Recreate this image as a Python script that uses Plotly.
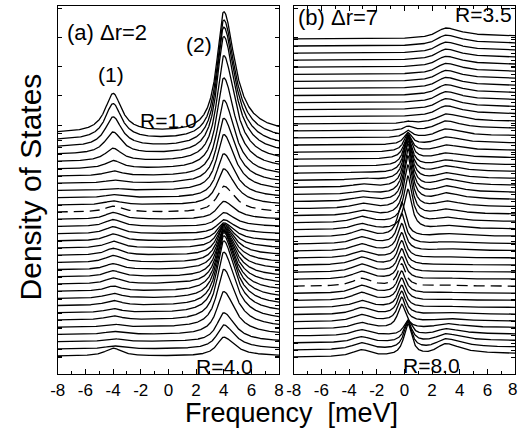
import numpy as np
import plotly.graph_objects as go

# ---------------- data ----------------
# Panel (a): Delta r = 2, curves from R=1.0 (top) to R=4.0 (bottom)
a_peak1_pos = -4.0          # peak (1) position [meV]
a_peak2_pos = 4.0           # peak (2) position [meV]
a_peak1_height = [39, 36, 30, 22, 13, 8, 5, 3, 2, 3, 4, 6, 7, 7, 7, 7,
                  7, 7, 7, 6, 6, 6, 5, 5, 5, 4, 4, 3, 3, 3, 3, 8]
a_peak2_height = [121, 120, 120, 118, 106, 91, 76, 65, 56, 44, 36, 26, 18, 14, 14, 18,
                  24, 30, 36, 42, 48, 54, 60, 66, 70, 72, 68, 58, 43, 29, 24, 19]
a_dashed_index = 11

# Panel (b): Delta r = 7, curves from R=3.5 (top) to R=8.0 (bottom)
b_left_pos = -3.1
b_right_pos = 3.0
b_left_height = [0] * 19 + [1, 2, 3, 3, 4, 5, 5, 6, 6, 7, 7, 7, 7, 8, 8, 8,
                            8, 8, 8, 7, 7, 7, 6, 6, 6, 7, 7]
b_center_height = [0] * 12 + [2, 4, 7, 12, 18, 24, 30, 36, 42, 46, 50, 52, 52, 50, 46, 40,
                              34, 30, 27, 25, 24, 23, 22, 22, 22, 22, 22, 23, 24, 24,
                              15, 21, 27, 32]
b_center_pos = [0.25] * 28 + [-0.2] * 14 + [0.25] * 4
b_right_height = [11] * 12 + [10, 10, 9, 8, 7, 6, 6, 7, 7, 8, 8, 8, 7, 6, 5,
                              4, 3, 2, 2, 1, 1, 1, 1, 1, 1, 1, 1, 2, 3, 5, 7, 9, 11, 13]
b_dashed_index = 35

x_ticks = [-8, -6, -4, -2, 0, 2, 4, 6, 8]

# ---------------- layout constants (pixels) ----------------
W, H = 524, 432
AX_L, AX_R = 51, 278
BX_L, BX_R = 293, 520
Y_TOP, Y_BOT = 6, 374
YR = Y_BOT - Y_TOP
A_FIRST, A_STEP = 133, 7.2      # baseline of first curve, spacing
B_FIRST, B_STEP = 39, 7.07

x = np.linspace(-8, 8, 1201)


def peak(xv, c, h, wl, wr, plateau=0.0):
    w = np.where(xv < c, wl, wr)
    L = 1.0 / (1.0 + ((xv - c) / w) ** 2)
    if plateau:
        L = np.where(xv > c, plateau + (1 - plateau) * L, L)
    return h * L


fig = go.Figure()
line_w = 1.3

a_bases = []
for i in range(len(a_peak2_height)):
    base = Y_BOT - (A_FIRST + A_STEP * i)
    a_bases.append(base)
    y = (base + peak(x, a_peak1_pos, a_peak1_height[i], 0.7, 0.75)
         + peak(x, a_peak2_pos, a_peak2_height[i], 0.6, 0.95))
    fig.add_trace(go.Scatter(
        x=x, y=y, mode="lines", xaxis="x", yaxis="y", hoverinfo="skip",
        showlegend=False,
        line=dict(color="black", width=line_w,
                  dash="10px,6px" if i == a_dashed_index else "solid")))

b_bases = []
for i in range(len(b_right_height)):
    base = Y_BOT - (B_FIRST + B_STEP * i)
    b_bases.append(base)
    y = (base + peak(x, b_left_pos, b_left_height[i], 0.8, 0.8)
         + peak(x, b_center_pos[i], b_center_height[i], 0.35, 0.35)
         + peak(x, b_right_pos, b_right_height[i], 0.85, 1.3, plateau=0.25))
    fig.add_trace(go.Scatter(
        x=x, y=y, mode="lines", xaxis="x2", yaxis="y2", hoverinfo="skip",
        showlegend=False,
        line=dict(color="black", width=line_w,
                  dash="11px,6px" if i == b_dashed_index else "solid")))

major_y = [Y_BOT - (8.6 + 29.1 * k) for k in range(13) if 8.6 + 29.1 * k < Y_BOT]
a_yticks = sorted(set([round(v, 2) for v in major_y + a_bases]))
b_yticks = sorted(set([round(v, 2) for v in major_y + b_bases]))

font = "Liberation Sans, Arial, Helvetica, sans-serif"
ydom = [(H - Y_BOT) / H, (H - Y_TOP) / H]

xcommon = dict(range=[-8, 8], tickvals=x_ticks,
               ticks="inside", ticklen=5, tickwidth=1, tickcolor="black",
               minor=dict(dtick=1, ticks="inside", ticklen=3, tickcolor="black"),
               showline=True, linecolor="black", linewidth=1.2,
               showgrid=False, zeroline=False,
               tickfont=dict(family=font, size=17, color="black"))
ycommon = dict(range=[0, YR], showticklabels=False, ticks="inside", ticklen=4,
               tickwidth=1, tickcolor="black", showline=True, linecolor="black",
               linewidth=1.2, mirror="ticks", showgrid=False, zeroline=False,
               domain=ydom)

a_ticktext = [str(v) for v in x_ticks]
b_ticktext = [str(v) for v in x_ticks[:-1]] + [""]   # last label drawn as annotation

fig.update_layout(
    width=W, height=H, margin=dict(l=0, r=0, t=0, b=0),
    paper_bgcolor="white", plot_bgcolor="white",
    xaxis=dict(domain=[AX_L / W, AX_R / W], anchor="y", mirror=True,
               ticktext=a_ticktext, **xcommon),
    xaxis2=dict(domain=[BX_L / W, BX_R / W], anchor="y2", mirror="ticks",
                ticktext=b_ticktext, **xcommon),
    yaxis=dict(anchor="x", tickvals=a_yticks, **ycommon),
    yaxis2=dict(anchor="x2", tickvals=b_yticks, **ycommon),
)


def ann(text, px, py, size, xanchor="left", angle=0):
    fig.add_annotation(text=text, x=px / W, y=1 - py / H, xref="paper", yref="paper",
                       xanchor=xanchor, yanchor="middle", showarrow=False,
                       textangle=angle, borderpad=0,
                       font=dict(family=font, size=size, color="black"))


ann("(a) Δr=2", 59, 32, 22)
ann("(2)", 182, 44, 21)
ann("(1)", 91, 74, 21)
ann("R=1.0", 134, 121, 21)
ann("R=4.0", 192, 366, 21)
ann("(b) Δr=7", 296, 18, 22)
ann("R=3.5", 457, 15, 21)
ann("R=8.0", 404, 365, 21)
ann(str(x_ticks[-1]), 523, 389, 17, xanchor="right")
ann("Frequency\u00a0 [meV]", 291, 413, 27, xanchor="center")
ann("Density of States", 23, 187, 30, xanchor="center", angle=-90)

fig.write_html("out.html",
               config={"displayModeBar": False, "staticPlot": True},
               post_script="document.body.style.margin='0';"
                           "document.body.style.overflow='hidden';")
